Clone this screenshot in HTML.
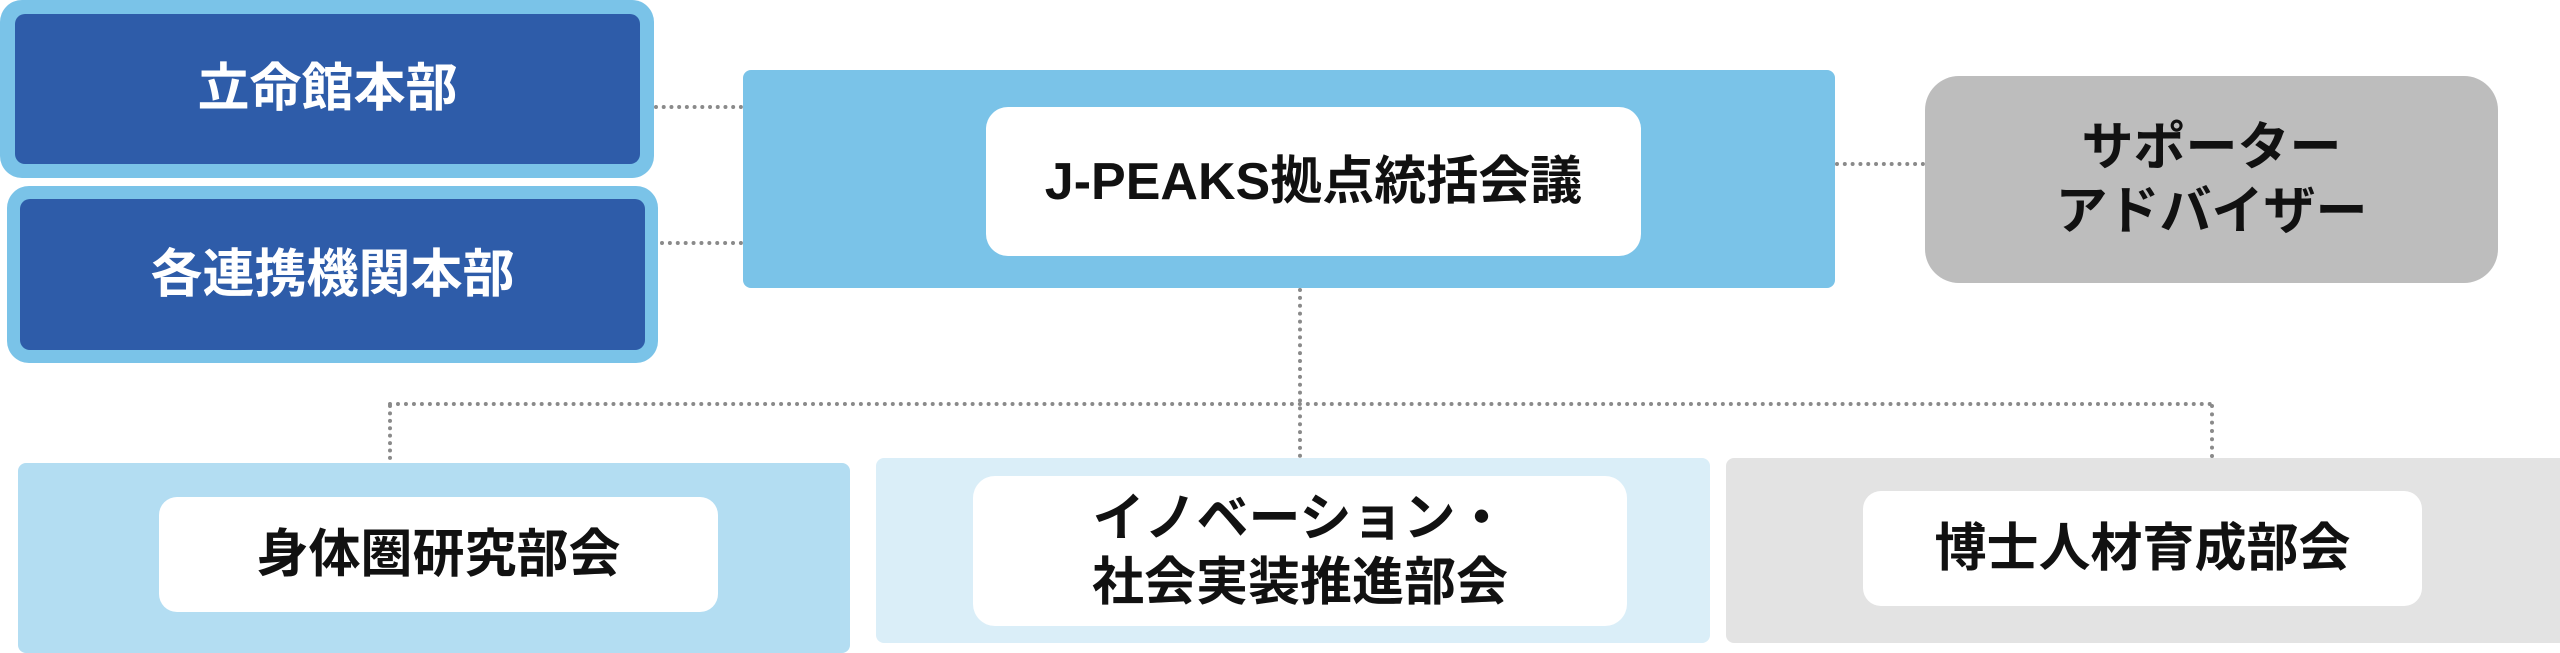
<!DOCTYPE html>
<html><head><meta charset="utf-8"><style>
body{margin:0;width:2560px;height:648px;background:#fff;position:relative;overflow:hidden;font-family:"Liberation Sans","Noto Sans CJK JP",sans-serif;font-weight:bold}
.b{position:absolute;box-sizing:border-box;display:flex;align-items:center;justify-content:center;text-align:center}
.t{font-size:52px;line-height:64px}
.h{position:absolute;border-top:4px dotted #8a8a8a;height:0}
.v{position:absolute;border-left:4px dotted #8a8a8a;width:0}
</style></head><body>
<div class="b" style="left:0;top:0;width:654px;height:178px;background:#7ac3e8;border-radius:22px"></div>
<div class="b t" style="left:15px;top:14px;width:625px;height:150px;background:#2e5ca9;border-radius:10px;color:#fff">立命館本部</div>
<div class="b" style="left:7px;top:186px;width:651px;height:177px;background:#7ac3e8;border-radius:22px"></div>
<div class="b t" style="left:20px;top:199px;width:625px;height:151px;background:#2e5ca9;border-radius:10px;color:#fff">各連携機関本部</div>

<div class="h" style="left:654px;top:105px;width:89px"></div>
<div class="h" style="left:660px;top:241px;width:83px"></div>
<div class="h" style="left:1835px;top:162px;width:90px"></div>

<div class="b" style="left:743px;top:70px;width:1092px;height:218px;background:#7ac3e8;border-radius:8px"></div>
<div class="b t" style="left:986px;top:107px;width:655px;height:149px;background:#fff;border-radius:22px;color:#111">J-PEAKS拠点統括会議</div>

<div class="b t" style="left:1925px;top:76px;width:573px;height:207px;background:#bdbdbd;border-radius:34px;color:#111">サポーター<br>アドバイザー</div>

<div class="v" style="left:1298px;top:288px;height:170px"></div>
<div class="h" style="left:388px;top:402px;width:1826px"></div>
<div class="v" style="left:388px;top:404px;height:56px"></div>
<div class="v" style="left:2210px;top:404px;height:54px"></div>

<div class="b" style="left:18px;top:463px;width:832px;height:190px;background:#b3ddf2;border-radius:8px"></div>
<div class="b t" style="left:159px;top:497px;width:559px;height:115px;background:#fff;border-radius:18px;color:#111">身体圏研究部会</div>

<div class="b" style="left:876px;top:458px;width:834px;height:185px;background:#daeef8;border-radius:8px"></div>
<div class="b t" style="left:973px;top:476px;width:654px;height:150px;background:#fff;border-radius:22px;color:#111">イノベーション・<br>社会実装推進部会</div>

<div class="b" style="left:1726px;top:458px;width:850px;height:185px;background:#e3e3e3;border-radius:8px"></div>
<div class="b t" style="left:1863px;top:491px;width:559px;height:115px;background:#fff;border-radius:18px;color:#111">博士人材育成部会</div>
</body></html>
